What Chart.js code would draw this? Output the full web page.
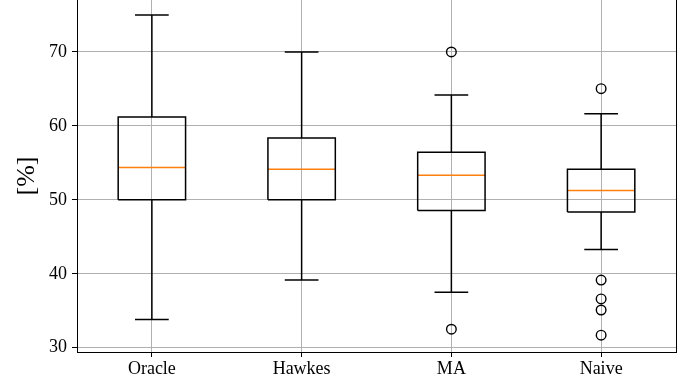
<!DOCTYPE html>
<html>
<head>
<meta charset="utf-8">
<script src="https://cdn.jsdelivr.net/npm/chart.js@4.4.0/dist/chart.umd.min.js"></script>
<style>
  html, body { margin: 0; padding: 0; background: #fff; }
  canvas { display: block; }
</style>
</head>
<body>
<canvas id="boxChart" width="696" height="383"></canvas>
<script>
// values
const categories = ["Oracle", "Hawkes", "MA", "Naive"];
const whiskerLow = [33.8, 39.15, 37.5, 43.3];
const quart1 = [50.0, 50.0, 48.56, 48.34];
const medians = [54.36, 54.15, 53.33, 51.26];
const quart3 = [61.2, 58.38, 56.45, 54.15];
const whiskerHigh = [75.0, 70.0, 64.19, 61.66];
const outliers = [[], [], [70.0, 32.5], [65.04, 39.15, 36.6, 35.1, 31.7]];
const yTicks = [30, 40, 50, 60, 70];

const BOX_HALF = 0.225;
const CAP_HALF = 0.1125;
const SERIF = "'Liberation Serif', 'DejaVu Serif', serif";

function seg(points, color, width) {
  return {
    data: points,
    showLine: true,
    borderColor: color,
    borderWidth: width,
    pointRadius: 0,
    fill: false,
  };
}

const datasets = [];
categories.forEach((name, i) => {
  const x = i + 1;
  const l = x - BOX_HALF, r = x + BOX_HALF;
  datasets.push(seg([{ x: x, y: quart3[i] }, { x: x, y: whiskerHigh[i] }], "#000", 1.5));
  datasets.push(seg([{ x: x, y: quart1[i] }, { x: x, y: whiskerLow[i] }], "#000", 1.5));
  datasets.push(seg([{ x: x - CAP_HALF, y: whiskerHigh[i] }, { x: x + CAP_HALF, y: whiskerHigh[i] }], "#000", 1.5));
  datasets.push(seg([{ x: x - CAP_HALF, y: whiskerLow[i] }, { x: x + CAP_HALF, y: whiskerLow[i] }], "#000", 1.5));
  datasets.push(seg([
    { x: l, y: quart1[i] }, { x: r, y: quart1[i] }, { x: r, y: quart3[i] },
    { x: l, y: quart3[i] }, { x: l, y: quart1[i] }
  ], "#000", 1.5));
  datasets.push(seg([{ x: l, y: medians[i] }, { x: r, y: medians[i] }], "#ff7f0e", 1.5));
});

datasets.push({
  data: outliers.flatMap((vals, i) => vals.map(v => ({ x: i + 1, y: v }))),
  showLine: false,
  pointRadius: 4.8,
  pointBorderWidth: 1.4,
  pointBorderColor: "#000",
  pointBackgroundColor: "rgba(0,0,0,0)",
});

// right spine
const rightEdge = {
  id: "rightEdge",
  afterDraw(chart) {
    const { ctx, chartArea } = chart;
    ctx.save();
    ctx.strokeStyle = "#000";
    ctx.lineWidth = 1;
    ctx.beginPath();
    ctx.moveTo(chartArea.right + 0.5, chartArea.top);
    ctx.lineTo(chartArea.right + 0.5, chartArea.bottom);
    ctx.stroke();
    ctx.restore();
  }
};

new Chart(document.getElementById("boxChart"), {
  type: "scatter",
  data: { datasets },
  plugins: [rightEdge],
  options: {
    responsive: false,
    animation: false,
    layout: { autoPadding: false, padding: { left: 0, right: 20, top: 0, bottom: 0 } },
    plugins: { legend: { display: false }, tooltip: { enabled: false } },
    scales: {
      x: {
        type: "linear",
        min: 0.5,
        max: 4.5,
        afterBuildTicks: s => { s.ticks = categories.map((c, i) => ({ value: i + 1 })); },
        afterFit: s => { s.height = 31; s.paddingLeft = 0; s.paddingRight = 0; },
        ticks: {
          callback: v => categories[v - 1],
          color: "#000",
          font: { family: SERIF, size: 18 },
          padding: 1,
          maxRotation: 0,
        },
        grid: { color: "#b0b0b0", lineWidth: 1, tickColor: "#000", tickLength: 5 },
        border: { color: "#000", width: 1 },
      },
      y: {
        min: 29.42,
        max: 77.03,
        afterBuildTicks: s => { s.ticks = yTicks.map(v => ({ value: v })); },
        afterFit: s => { s.width = 77; s.paddingTop = 0; s.paddingBottom = 0; },
        ticks: {
          color: "#000",
          font: { family: SERIF, size: 18 },
          padding: 5,
        },
        title: {
          display: true,
          text: "[%]",
          color: "#000",
          font: { family: SERIF, size: 26 },
          padding: { top: 12, bottom: 0 },
        },
        grid: { color: "#b0b0b0", lineWidth: 1, tickColor: "#000", tickLength: 5 },
        border: { color: "#000", width: 1 },
      },
    },
  },
});
</script>
</body>
</html>
